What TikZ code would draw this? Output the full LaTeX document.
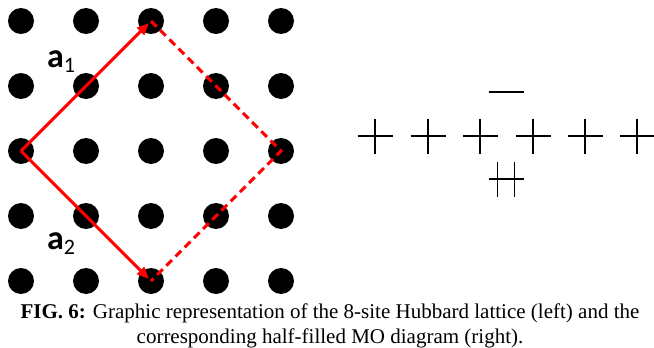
\documentclass[tikz,border=0pt]{standalone}
\usepackage{fontspec}
\setmainfont{Liberation Serif}
\newfontfamily\labelfont{Carlito}
\usetikzlibrary{arrows.meta, positioning, calc}

\tikzset{
  site/.style={circle, fill=black, inner sep=0pt, minimum size=26pt},
  cellvec/.style={red, line width=3pt, -{Triangle[length=12pt, width=10pt]}, shorten >=3pt},
  cellside/.style={red, line width=3pt, dash pattern=on 8pt off 5pt},
  level/.style={line width=1.3pt},
  veclabel/.style={anchor=base west, inner sep=0pt, font=\labelfont\fontsize{34}{34}\selectfont},
  caption/.style={anchor=base, inner sep=0pt, font=\fontsize{21}{25}\selectfont},
}
\newcommand{\vecsub}[1]{\raisebox{-5pt}{\fontsize{22}{22}\selectfont #1}}

\begin{document}
\begin{tikzpicture}[x=1pt, y=-1pt]
  \useasboundingbox (0,0) rectangle (654,348);
  % lattice sites
  \foreach \i in {0,...,4}
    \foreach \j in {0,...,4}
      \node[site] (s-\i-\j) at (21+65*\i, 21+65*\j) {};
  % unit cell
  \draw[cellside] (s-2-0.center) -- (s-4-2.center) -- (s-2-4.center);
  \draw[cellvec] (s-0-2.center) -- (s-2-0.center);
  \draw[cellvec] (s-0-2.center) -- (s-2-4.center);
  \node[veclabel] (a1) at (47,67) {\textbf{a}\vecsub{1}};
  \node[veclabel] (a2) at (47,249) {\textbf{a}\vecsub{2}};

  % MO levels
  \coordinate (mo-top) at (506,92);
  \coordinate (mo-bot) at (506,179);
  \foreach \x [count=\k] in {375,428,480,533,585,637}
    \coordinate (mo-\k) at (\x,136);
  \draw[level] ($(mo-top)+(-17.5,0)$) -- ++(35,0);
  \draw[level] ($(mo-bot)+(-17.5,0)$) -- ++(35,0);
  \draw[level] ($(mo-bot)+(-8.5,-17)$) -- ++(0,35);
  \draw[level] ($(mo-bot)+(8.5,-17)$) -- ++(0,35);
  \foreach \k in {1,...,6} {
    \draw[level] ($(mo-\k)+(-17.5,0)$) -- ++(35,0);
    \draw[level] ($(mo-\k)+(0,-17)$) -- ++(0,35);
  }

  % caption
  \node[caption] (cap1) at (330,318)
    {\textbf{FIG. 6:} Graphic representation of the 8-site Hubbard lattice (left) and the};
  \node[caption] (cap2) at (330,343)
    {corresponding half-filled MO diagram (right).};
\end{tikzpicture}
\end{document}
